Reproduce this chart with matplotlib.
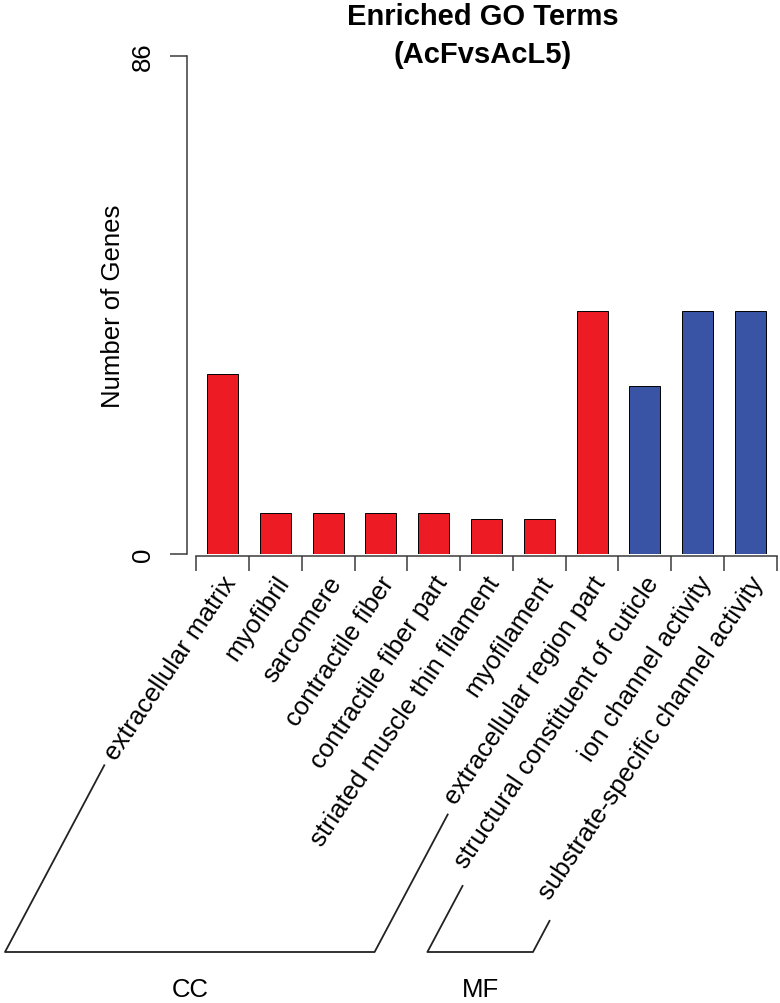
import numpy as np
import matplotlib
matplotlib.use('Agg')
import matplotlib.pyplot as plt
from matplotlib.transforms import ScaledTranslation

plt.rcParams['font.family'] = ['Liberation Sans', 'DejaVu Sans']

# GO terms and gene counts
terms = ['extracellular matrix', 'myofibril', 'sarcomere', 'contractile fiber',
         'contractile fiber part', 'striated muscle thin filament', 'myofilament',
         'extracellular region part', 'structural constituent of cuticle',
         'ion channel activity', 'substrate-specific channel activity']
counts = [31, 7, 7, 7, 7, 6, 6, 42, 29, 42, 42]
groups = ['CC'] * 8 + ['MF'] * 3
group_names = ['CC', 'MF']
group_colors = {'CC': '#ED1C24', 'MF': '#3953A5'}
y_max = 86

W, H = 780, 1004
fs = 18.5
text_angle = 56
bracket_angle = 62

fig = plt.figure(figsize=(W / 100, H / 100), dpi=100)
ax = fig.add_axes([160 / W, 449 / H, 620 / W, 498 / H])

x = np.arange(len(terms))
ax.bar(x, counts, width=0.59, color=[group_colors[g] for g in groups],
       edgecolor='black', linewidth=0.7, zorder=3)
ax.set_xlim(-1.184, 10.559)
ax.set_ylim(0, y_max)

for s in ['top', 'right']:
    ax.spines[s].set_visible(False)
axis_col = '#3a3a3a'
ax.spines['left'].set_position(('data', -0.672))
ax.spines['left'].set_bounds(0, y_max)
ax.spines['bottom'].set_position(('outward', 1.2))
ax.spines['bottom'].set_bounds(-0.5, len(terms) - 0.5)
for s in ['left', 'bottom']:
    ax.spines[s].set_color(axis_col)
    ax.spines[s].set_linewidth(1.1)

ax.set_yticks([0, y_max])
ax.set_yticklabels(['0', str(y_max)], rotation=90, va='center', fontsize=fs)
ax.tick_params(axis='y', length=12.2, width=1.1, color=axis_col, pad=11)
ax.set_xticks(np.arange(len(terms) + 1) - 0.5)
ax.set_xticklabels([])
ax.tick_params(axis='x', length=10.8, width=1.1, color=axis_col)

fig.text(113 / W, 1 - 306 / H, 'Number of Genes', rotation=90,
         ha='center', va='center', fontsize=fs)

fig.text(483 / W, 1 - 25 / H, 'Enriched GO Terms', ha='center', va='baseline',
         fontsize=21, fontweight='bold')
fig.text(483 / W, 1 - 63 / H, '(AcFvsAcL5)', ha='center', va='baseline',
         fontsize=21, fontweight='bold')

# rotated category labels
lab_trans = ax.transData + ScaledTranslation(8.5 / 100, -24 / 100, fig.dpi_scale_trans)
for i, t in enumerate(terms):
    ax.text(i, 0, t, transform=lab_trans, rotation=text_angle, rotation_mode='anchor',
            ha='right', va='center', fontsize=fs, clip_on=False)

# group brackets
fig.canvas.draw()
renderer = fig.canvas.get_renderer()


def label_width(s):
    tmp = fig.text(0, 0, s, fontsize=fs)
    w = tmp.get_window_extent(renderer).width
    tmp.remove()
    return w


base_y = 953
tan_b = np.tan(np.radians(bracket_angle))
for g in group_names:
    idx = [i for i, gg in enumerate(groups) if gg == g]
    ends = []
    for i in (idx[0], idx[-1]):
        cx = ax.transData.transform((i, 0))[0]
        bx = cx - 217.5
        top_y = 565.5 + 0.929 * label_width(terms[i])
        tx = bx + (base_y - top_y) / tan_b
        ends.append(((bx, base_y), (tx, top_y)))
    (b0, t0), (b1, t1) = ends
    xs = [t0[0], b0[0], b1[0], t1[0]]
    ys = [t0[1], b0[1], b1[1], t1[1]]
    fig.add_artist(plt.Line2D([v / W for v in xs], [1 - v / H for v in ys],
                              transform=fig.transFigure, color='#222222', lw=1.3))
    fig.text((b0[0] + b1[0]) / 2 / W, 1 - 990 / H, g, ha='center', va='center',
             fontsize=fs)

fig.savefig('out.png', dpi=100)
plt.close(fig)
